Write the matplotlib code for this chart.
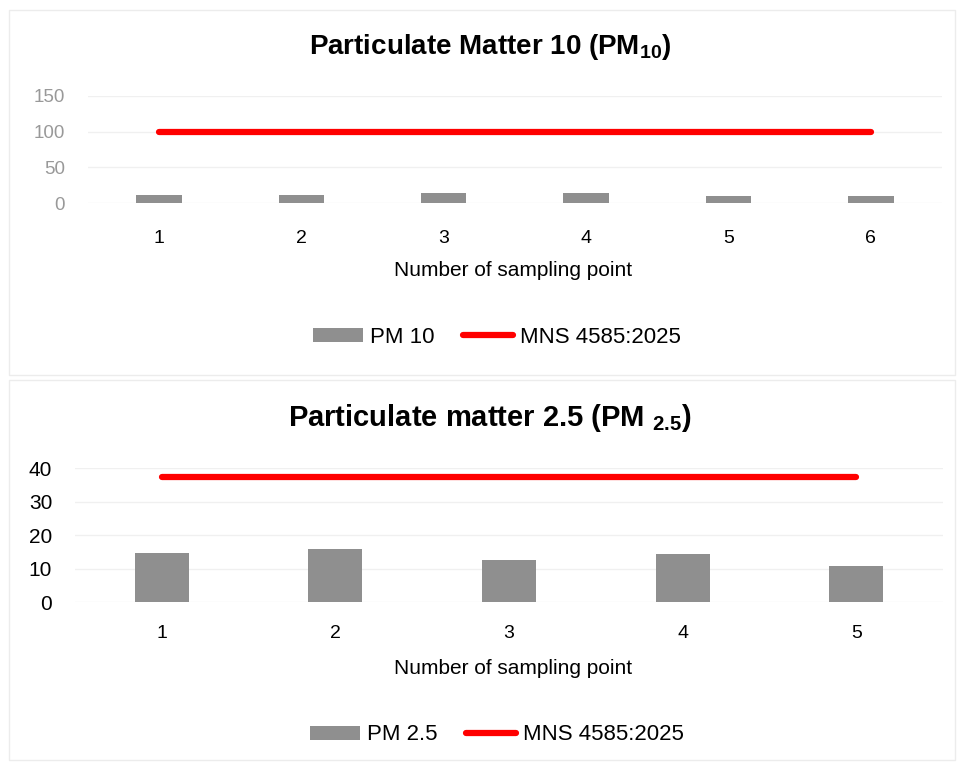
import matplotlib
matplotlib.use("Agg")
import matplotlib.pyplot as plt
from matplotlib.patches import Rectangle, Patch
from matplotlib.lines import Line2D

plt.rcParams['font.family'] = ['Liberation Sans', 'DejaVu Sans']
plt.rcParams['mathtext.fontset'] = 'custom'
plt.rcParams['mathtext.rm'] = 'Liberation Sans:bold'
plt.rcParams['mathtext.it'] = 'Liberation Sans:bold'
plt.rcParams['mathtext.bf'] = 'Liberation Sans:bold'

# Data
pm10_points = ["1", "2", "3", "4", "5", "6"]
pm10_values = [12, 12, 15, 15, 10, 10]
pm10_limit = [100, 100, 100, 100, 100, 100]
pm10_yticks = [0, 50, 100, 150]

pm25_points = ["1", "2", "3", "4", "5"]
pm25_values = [14.7, 15.9, 12.5, 14.3, 10.9]
pm25_limit = [37.5, 37.5, 37.5, 37.5, 37.5]
pm25_yticks = [0, 10, 20, 30, 40]

bar_color = "#8f8f8f"
line_color = "#ff0000"
grid_color = "#f0f0f0"

W, H = 958, 767
fig = plt.figure(figsize=(W / 100, H / 100), dpi=100)

def fx(px):
    return px / W

def fy(py):
    return 1 - py / H

# panel frames
for (x0, y0, x1, y1) in [(9, 10, 955, 375), (9, 380, 955, 760)]:
    fig.patches.append(Rectangle((fx(x0), fy(y1)), fx(x1) - fx(x0), fy(y0) - fy(y1),
                                 transform=fig.transFigure, fill=False,
                                 edgecolor="#ececec", linewidth=1.0))

def make_panel(rect, cats, vals, limit, yticks, ytick_color, ytick_size, bar_label,
               title, title_size, title_y, xlabel_y, legend_y, bar_w, xpad):
    ax = fig.add_axes(rect)
    x = list(range(1, len(cats) + 1))
    ax.bar(x, vals, width=bar_w, color=bar_color, zorder=2)
    ax.plot(x, limit, color=line_color, linewidth=4.5, solid_capstyle='round', zorder=3)
    ax.set_xlim(0.5, len(cats) + 0.5)
    ax.set_ylim(yticks[0], yticks[-1])
    ax.set_yticks(yticks)
    ax.set_xticks(x)
    ax.set_xticklabels(cats)
    for s in ax.spines.values():
        s.set_visible(False)
    ax.yaxis.grid(True, color=grid_color, linewidth=1.0, zorder=0)
    ax.set_axisbelow(True)
    ax.tick_params(axis='both', length=0)
    ax.tick_params(axis='y', labelsize=ytick_size, labelcolor=ytick_color, pad=16.4)
    ax.tick_params(axis='x', labelsize=14, labelcolor='black', pad=xpad)
    fig.text(fx(490), fy(title_y), title, ha='center', va='center',
             fontsize=title_size, fontweight='bold')
    fig.text(fx(513), fy(xlabel_y), "Number of sampling point", ha='center',
             va='center', fontsize=15)
    handles = [Patch(facecolor=bar_color, edgecolor='none'),
               Line2D([0], [0], color=line_color, linewidth=4.5, solid_capstyle='round')]
    fig.legend(handles, [bar_label, "MNS 4585:2025"], loc='center',
               bbox_to_anchor=(fx(497), fy(legend_y)), ncol=2, frameon=False,
               fontsize=16, handlelength=2.25, handleheight=0.6, handletextpad=0.3,
               columnspacing=1.3)
    return ax

make_panel([fx(87.75), fy(203.3), fx(942) - fx(87.75), fy(95.7) - fy(203.3)],
           pm10_points, pm10_values, pm10_limit, pm10_yticks, "#999999", 13.5, "PM 10",
           r"Particulate Matter 10 (PM$_{10}$)", 20, 47, 271, 337, 0.32, 19)

make_panel([fx(75), fy(602.3), fx(943) - fx(75), fy(468.3) - fy(602.3)],
           pm25_points, pm25_values, pm25_limit, pm25_yticks, "black", 15, "PM 2.5",
           r"Particulate matter 2.5 (PM $_{2.5}$)", 21, 418, 669, 735, 0.31, 16)

fig.savefig("out.png", dpi=100, facecolor="white")
